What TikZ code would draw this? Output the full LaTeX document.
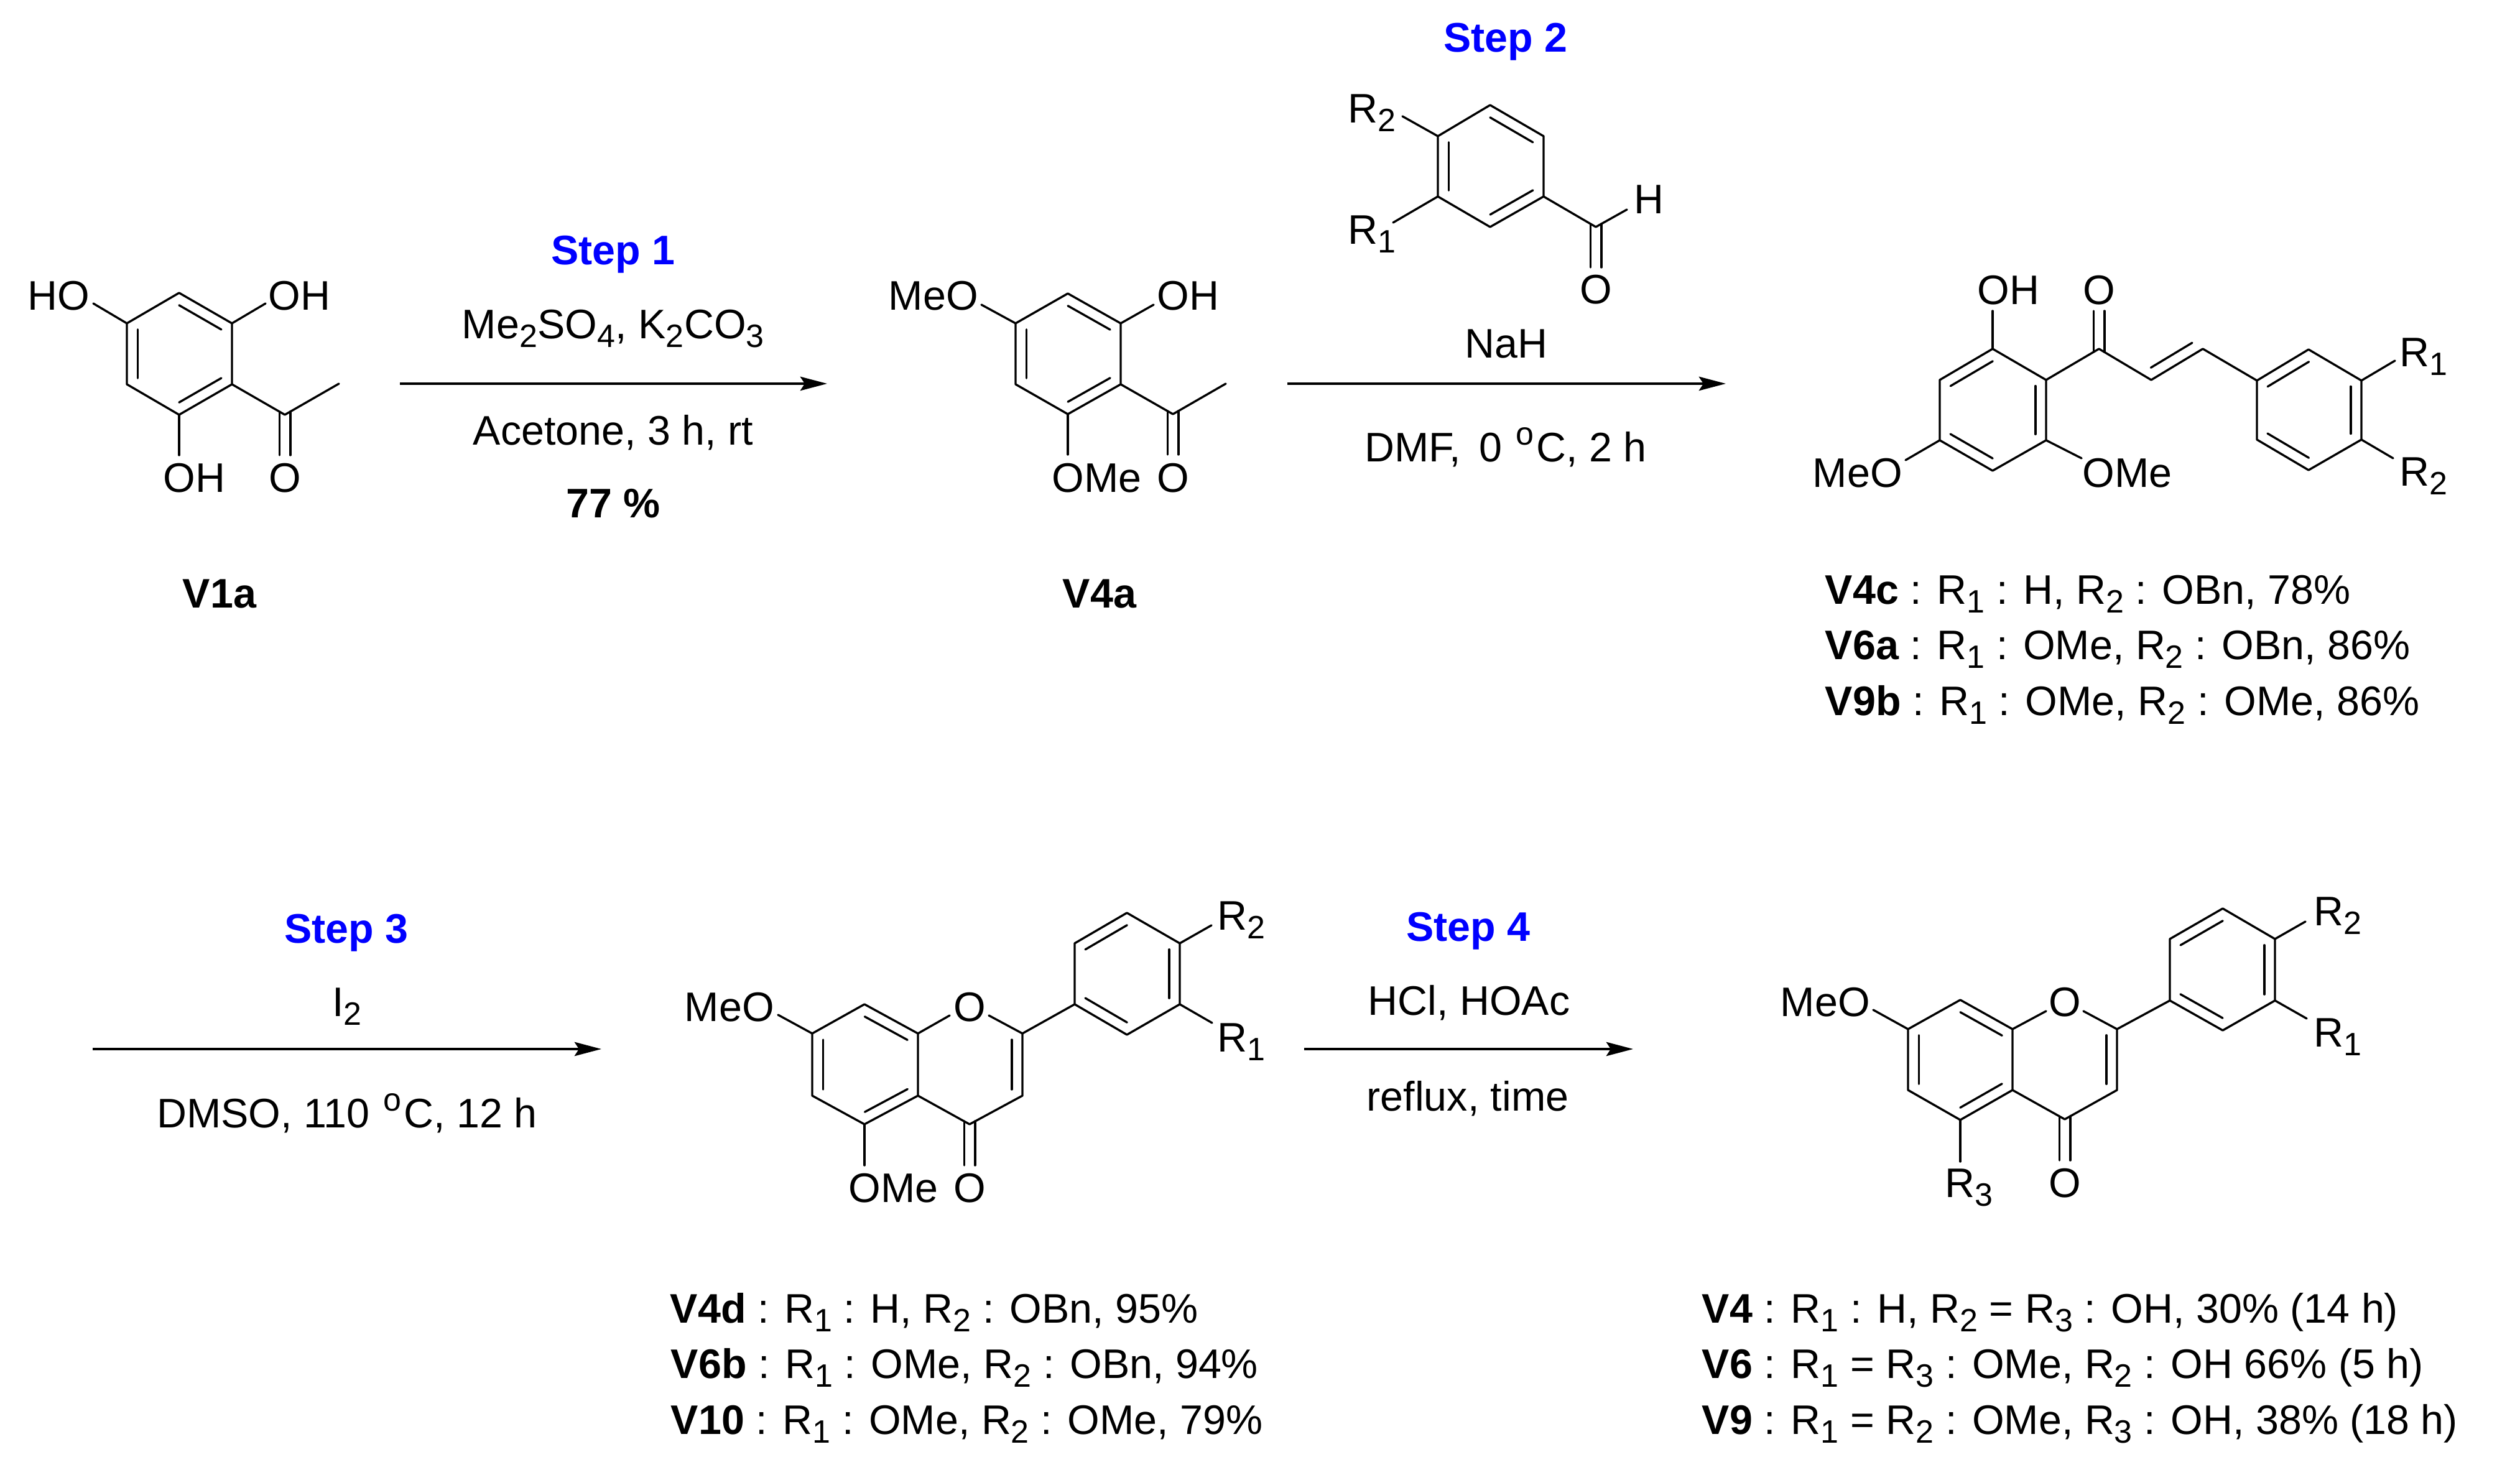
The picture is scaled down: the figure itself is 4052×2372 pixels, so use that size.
\documentclass[tikz,border=0pt]{standalone}
\usepackage{fontspec}
\setmainfont{Liberation Sans}
\usetikzlibrary{arrows.meta, calc}
\tikzset{
  atomlabel/.style = {anchor=base, inner sep=0pt, yshift=-0.5pt},
  leftlabel/.style = {anchor=base west, inner sep=0pt, yshift=-0.5pt},
  stepname/.style = {anchor=base, inner sep=0pt, yshift=-0.5pt, text=blue, font=\fontsize{16.6}{19}\selectfont\bfseries},
  bond/.style = {line width=0.85pt, line cap=round, line join=round},
  rxnarrow/.style = {line width=0.95pt, -{Stealth[length=10.8pt,width=5.6pt,inset=1.8pt]}}
}
\newcommand{\subsc}[1]{\raisebox{-3.5pt}{\fontsize{13}{13}\selectfont #1}\kern0.1pt\relax}
\newcommand{\supo}{\kern1pt\raisebox{6.75pt}{\fontsize{13}{13}\selectfont o}\kern1pt\relax}
% inner line of a double bond, on the left going from #1 to #2
\newcommand{\inbond}[2]{\draw[bond] ($(#1)!0.1!(#2)!4.3pt!90:(#2)$) -- ($(#2)!0.1!(#1)!4.3pt!-90:(#1)$);}
% vertical C=O, #3 moves the start onto the two ring bonds
\newcommand{\carbonyl}[3]{
  \draw[bond] ([xshift=-2.2pt,yshift=#3]#1) -- ([xshift=-2.2pt]#2);
  \draw[bond] ([xshift=2.2pt,yshift=#3]#1) -- ([xshift=2.2pt]#2);
}
\begin{document}
\begin{tikzpicture}[x=0.25pt, y=-0.25pt, every node/.append style={font=\fontsize{16.6}{19}\selectfont}]
\useasboundingbox (0,0) rectangle (4052,2372);

% V1a
\coordinate (a1) at (288,471);
\coordinate (a2) at (204,520);
\coordinate (a3) at (204,618);
\coordinate (a4) at (288,667);
\coordinate (a5) at (373,618);
\coordinate (a6) at (373,520);
\coordinate (a7) at (458,667);
\coordinate (a8) at (545,617);
\coordinate (aoe) at (458,732);
\coordinate (ahoe) at (150,488);
\coordinate (aohe) at (427,488);
\coordinate (aohf) at (288,732);
\draw[bond] (a1) -- (a2) -- (a3) -- (a4) -- (a5) -- (a6) -- cycle;
\inbond{a2}{a3} \inbond{a4}{a5} \inbond{a6}{a1}
\draw[bond] (a5) -- (a7) -- (a8);
\carbonyl{a7}{aoe}{1.25pt}
\draw[bond] (a2) -- (ahoe);
\draw[bond] (a6) -- (aohe);
\draw[bond] (a4) -- (aohf);
\node (aho) [leftlabel] at (44,497) {HO};
\node (aoh) [leftlabel] at (431,497) {OH};
\node (aohb) [leftlabel] at (262,790) {OH};
\node (ao) [atomlabel] at (458,790) {O};
\node (v1a) [atomlabel] at (353,976) {\bfseries V1a};

% step 1
\coordinate (s1a) at (643,617);
\coordinate (s1b) at (1330,617);
\draw[rxnarrow] (s1a) -- (s1b);
\node (s1name) [stepname] at (986,424) {Step 1};
\node (s1top) [atomlabel] at (986,543) {Me\subsc{2}SO\subsc{4}, K\subsc{2}CO\subsc{3}};
\node (s1low) [atomlabel] at (986,714) {Acetone, 3 h, rt};
\node (s1yield) [atomlabel] at (986,831) {\bfseries 77 \%};

% V4a
\coordinate (b1) at (1717,472);
\coordinate (b2) at (1633,520);
\coordinate (b3) at (1633,618);
\coordinate (b4) at (1717,666);
\coordinate (b5) at (1802,618);
\coordinate (b6) at (1802,520);
\coordinate (b7) at (1886,666);
\coordinate (b8) at (1971,617);
\coordinate (boe) at (1886,731);
\coordinate (bmeoe) at (1578,490);
\coordinate (bohe) at (1855,490);
\coordinate (bomee) at (1717,731);
\draw[bond] (b1) -- (b2) -- (b3) -- (b4) -- (b5) -- (b6) -- cycle;
\inbond{b2}{b3} \inbond{b4}{b5} \inbond{b6}{b1}
\draw[bond] (b5) -- (b7) -- (b8);
\carbonyl{b7}{boe}{1.25pt}
\draw[bond] (b2) -- (bmeoe);
\draw[bond] (b6) -- (bohe);
\draw[bond] (b4) -- (bomee);
\node (bmeo) [leftlabel] at (1428,497) {MeO};
\node (boh) [leftlabel] at (1860,497) {OH};
\node (bome) [leftlabel] at (1691,790) {OMe};
\node (bo) [atomlabel] at (1886,790) {O};
\node (v4a) [atomlabel] at (1768,976) {\bfseries V4a};

% step 2, with the aldehyde above the arrow
\node (s2name) [stepname] at (2421,82) {Step 2};
\coordinate (c1) at (2396,169);
\coordinate (c2) at (2312,219);
\coordinate (c3) at (2312,316);
\coordinate (c4) at (2396,365);
\coordinate (c5) at (2482,316);
\coordinate (c6) at (2482,219);
\coordinate (c7) at (2566,365);
\coordinate (che) at (2616,337);
\coordinate (coe) at (2566,430);
\coordinate (cr2e) at (2255,187);
\coordinate (cr1e) at (2240,358);
\draw[bond] (c1) -- (c2) -- (c3) -- (c4) -- (c5) -- (c6) -- cycle;
\inbond{c2}{c3} \inbond{c4}{c5} \inbond{c6}{c1}
\draw[bond] (c5) -- (c7) -- (che);
\carbonyl{c7}{coe}{1.25pt}
\draw[bond] (c2) -- (cr2e);
\draw[bond] (c3) -- (cr1e);
\node (cr2) [leftlabel] at (2167,196) {R\subsc{2}};
\node (cr1) [leftlabel] at (2167,391) {R\subsc{1}};
\node (ch) [leftlabel] at (2627,342) {H};
\node (co) [atomlabel] at (2566,487) {O};
\coordinate (s2a) at (2070,617);
\coordinate (s2b) at (2775,617);
\draw[rxnarrow] (s2a) -- (s2b);
\node (s2top) [atomlabel] at (2422,574) {NaH};
\node (s2low) [atomlabel] at (2421,741) {DMF,\, 0 \supo C, 2 h};

% chalcone
\coordinate (d1) at (3204,561);
\coordinate (d2) at (3119,611);
\coordinate (d3) at (3119,708);
\coordinate (d4) at (3204,757);
\coordinate (d5) at (3290,708);
\coordinate (d6) at (3290,611);
\coordinate (d7) at (3375,561);
\coordinate (d8) at (3459,611);
\coordinate (d9) at (3542,561);
\coordinate (e1) at (3712,562);
\coordinate (e2) at (3629,612);
\coordinate (e3) at (3629,707);
\coordinate (e4) at (3712,756);
\coordinate (e5) at (3797,707);
\coordinate (e6) at (3797,612);
\coordinate (doe) at (3375,500);
\coordinate (dohe) at (3204,500);
\coordinate (dmeoe) at (3064,740);
\coordinate (domee) at (3347,737);
\coordinate (er1e) at (3851,580);
\coordinate (er2e) at (3848,737);
\draw[bond] (d1) -- (d2) -- (d3) -- (d4) -- (d5) -- (d6) -- cycle;
\inbond{d1}{d2} \inbond{d3}{d4} \inbond{d5}{d6}
\draw[bond] (d6) -- (d7) -- (d8) -- (d9) -- (e2);
\inbond{d8}{d9}
\carbonyl{d7}{doe}{-1.25pt}
\draw[bond] (e1) -- (e2) -- (e3) -- (e4) -- (e5) -- (e6) -- cycle;
\inbond{e1}{e2} \inbond{e3}{e4} \inbond{e5}{e6}
\draw[bond] (d1) -- (dohe);
\draw[bond] (d3) -- (dmeoe);
\draw[bond] (d5) -- (domee);
\draw[bond] (e6) -- (er1e);
\draw[bond] (e5) -- (er2e);
\node (doh) [leftlabel] at (3179,488) {OH};
\node (do) [atomlabel] at (3375,488) {O};
\node (dmeo) [leftlabel] at (2914,782) {MeO};
\node (dome) [leftlabel] at (3348,782) {OMe};
\node (er1) [leftlabel] at (3858,588) {R\subsc{1}};
\node (er2) [leftlabel] at (3858,780) {R\subsc{2}};
\node (v4c) [leftlabel] at (2934,970) {\bfseries V4c\mdseries{} : R\subsc{1} : H, R\subsc{2} : OBn, 78\%};
\node (v6a) [leftlabel] at (2934,1059) {\bfseries V6a\mdseries{} : R\subsc{1} : OMe, R\subsc{2} : OBn, 86\%};
\node (v9b) [leftlabel] at (2934,1149) {\bfseries V9b\mdseries{} : R\subsc{1} : OMe, R\subsc{2} : OMe, 86\%};

% step 3
\coordinate (s3a) at (149,1687);
\coordinate (s3b) at (967,1687);
\draw[rxnarrow] (s3a) -- (s3b);
\node (s3name) [stepname] at (557,1515) {Step 3};
\node (s3top) [atomlabel] at (558,1633) {I\subsc{2}};
\node (s3low) [atomlabel] at (558,1812) {DMSO, 110 \supo C, 12 h};

% flavone with OMe
\coordinate (f1) at (1390,1615);
\coordinate (f2) at (1306,1662);
\coordinate (f3) at (1306,1762);
\coordinate (f4) at (1390,1808);
\coordinate (f5) at (1476,1762);
\coordinate (f6) at (1476,1662);
\coordinate (f7) at (1559,1808);
\coordinate (f8) at (1644,1762);
\coordinate (f9) at (1644,1662);
\coordinate (g1) at (1812,1468);
\coordinate (g2) at (1728,1517);
\coordinate (g3) at (1728,1615);
\coordinate (g4) at (1812,1664);
\coordinate (g5) at (1897,1615);
\coordinate (g6) at (1897,1517);
\coordinate (fo1) at (1527,1633);
\coordinate (fo2) at (1590,1633);
\coordinate (fmeoe) at (1251,1632);
\coordinate (fomee) at (1390,1874);
\coordinate (foe) at (1559,1874);
\coordinate (gr2e) at (1948,1488);
\coordinate (gr1e) at (1949,1645);
\draw[bond] (f1) -- (f2) -- (f3) -- (f4) -- (f5) -- (f6) -- cycle;
\inbond{f2}{f3} \inbond{f4}{f5} \inbond{f6}{f1}
\draw[bond] (f5) -- (f7) -- (f8) -- (f9) -- (fo2);
\draw[bond] (f6) -- (fo1);
\inbond{f8}{f9}
\carbonyl{f7}{foe}{1.25pt}
\draw[bond] (f9) -- (g3);
\draw[bond] (g1) -- (g2) -- (g3) -- (g4) -- (g5) -- (g6) -- cycle;
\inbond{g1}{g2} \inbond{g3}{g4} \inbond{g5}{g6}
\draw[bond] (f2) -- (fmeoe);
\draw[bond] (f4) -- (fomee);
\draw[bond] (g6) -- (gr2e);
\draw[bond] (g5) -- (gr1e);
\node (fmeo) [leftlabel] at (1100,1641) {MeO};
\node (fo) [atomlabel] at (1559,1641) {O};
\node (fome) [leftlabel] at (1364,1932) {OMe};
\node (fox) [atomlabel] at (1559,1932) {O};
\node (gr2) [leftlabel] at (1957,1494) {R\subsc{2}};
\node (gr1) [leftlabel] at (1957,1690) {R\subsc{1}};
\node (v4d) [leftlabel] at (1077,2126) {\bfseries V4d\mdseries{} : R\subsc{1} : H, R\subsc{2} : OBn, 95\%};
\node (v6b) [leftlabel] at (1078,2215) {\bfseries V6b\mdseries{} : R\subsc{1} : OMe, R\subsc{2} : OBn, 94\%};
\node (v10) [leftlabel] at (1078,2304) {\bfseries V10\mdseries{} : R\subsc{1} : OMe, R\subsc{2} : OMe, 79\%};

% step 4
\coordinate (s4a) at (2097,1687);
\coordinate (s4b) at (2626,1687);
\draw[rxnarrow] (s4a) -- (s4b);
\node (s4name) [stepname] at (2361,1512) {Step 4};
\node (s4top) [atomlabel] at (2362,1631) {HCl, HOAc};
\node (s4low) [atomlabel] at (2360,1785) {reflux, time};

% final flavone
\coordinate (h1) at (3152,1608);
\coordinate (h2) at (3068,1655);
\coordinate (h3) at (3068,1753);
\coordinate (h4) at (3152,1801);
\coordinate (h5) at (3236,1753);
\coordinate (h6) at (3236,1655);
\coordinate (h7) at (3320,1800);
\coordinate (h8) at (3404,1753);
\coordinate (h9) at (3404,1655);
\coordinate (k1) at (3574,1461);
\coordinate (k2) at (3489,1510);
\coordinate (k3) at (3489,1609);
\coordinate (k4) at (3574,1657);
\coordinate (k5) at (3658,1609);
\coordinate (k6) at (3658,1510);
\coordinate (ho1) at (3290,1626);
\coordinate (ho2) at (3350,1626);
\coordinate (hmeoe) at (3012,1624);
\coordinate (hr3e) at (3152,1868);
\coordinate (hoe) at (3320,1866);
\coordinate (kr2e) at (3707,1482);
\coordinate (kr1e) at (3709,1638);
\draw[bond] (h1) -- (h2) -- (h3) -- (h4) -- (h5) -- (h6) -- cycle;
\inbond{h2}{h3} \inbond{h4}{h5} \inbond{h6}{h1}
\draw[bond] (h5) -- (h7) -- (h8) -- (h9) -- (ho2);
\draw[bond] (h6) -- (ho1);
\inbond{h8}{h9}
\carbonyl{h7}{hoe}{1.25pt}
\draw[bond] (h9) -- (k3);
\draw[bond] (k1) -- (k2) -- (k3) -- (k4) -- (k5) -- (k6) -- cycle;
\inbond{k1}{k2} \inbond{k3}{k4} \inbond{k5}{k6}
\draw[bond] (h2) -- (hmeoe);
\draw[bond] (h4) -- (hr3e);
\draw[bond] (k6) -- (kr2e);
\draw[bond] (k5) -- (kr1e);
\node (hmeo) [leftlabel] at (2862,1633) {MeO};
\node (ho) [atomlabel] at (3320,1633) {O};
\node (hr3) [leftlabel] at (3127,1924) {R\subsc{3}};
\node (hox) [atomlabel] at (3320,1924) {O};
\node (kr2) [leftlabel] at (3720,1487) {R\subsc{2}};
\node (kr1) [leftlabel] at (3720,1682) {R\subsc{1}};
\node (v4) [leftlabel] at (2736,2126) {\bfseries V4\mdseries{} : R\subsc{1} : H, R\subsc{2} = R\subsc{3} : OH, 30\% (14 h)};
\node (v6) [leftlabel] at (2736,2215) {\bfseries V6\mdseries{} : R\subsc{1} = R\subsc{3} : OMe, R\subsc{2} : OH 66\% (5 h)};
\node (v9) [leftlabel] at (2736,2304) {\bfseries V9\mdseries{} : R\subsc{1} = R\subsc{2} : OMe, R\subsc{3} : OH, 38\% (18 h)};
\end{tikzpicture}
\end{document}
